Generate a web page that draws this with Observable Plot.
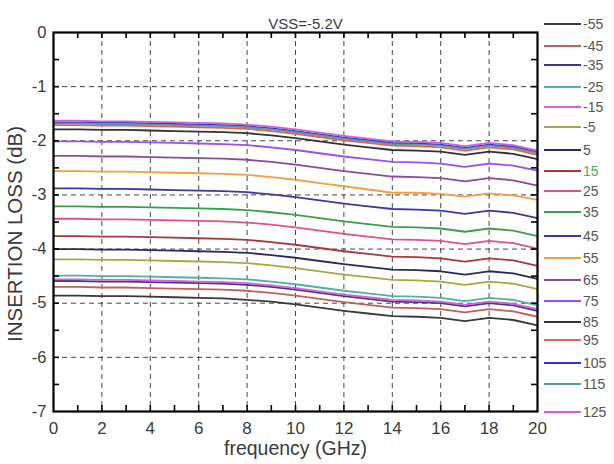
<!DOCTYPE html>
<html>
<head>
<meta charset="utf-8">
<script src="https://cdn.jsdelivr.net/npm/d3@7"></script>
<script src="https://cdn.jsdelivr.net/npm/@observablehq/plot@0.6"></script>
<style>
  html, body { margin: 0; padding: 0; background: #fff; }
  #wrap { position: relative; width: 614px; height: 464px; font-family: "Liberation Sans", Arial, sans-serif; }
  #legend { position: absolute; left: 0; top: 0; width: 614px; height: 464px; pointer-events: none; }
  .entry { position: absolute; left: 544px; height: 16px; display: flex; align-items: center; }
  .entry .sw { width: 37px; height: 2px; margin-right: 2px; }
  .entry .lb { font-size: 14px; color: #555; }
</style>
</head>
<body>
<div id="wrap"><div id="legend"></div></div>
<script>
// ---- data ----
const freq = [0,1,2,3,4,5,6,7,8,9,10,11,12,13,14,15,16,17,18,19,20];
const temps = [-55,-45,-35,-25,-15,-5,5,15,25,35,45,55,65,75,85,95,105,115,125];
const colors = ["#3a3a3a","#c0605a","#3a3a90","#4fb0b0","#d860d8","#a8a840","#2a2a60","#a83a3a","#e0508a","#38a048","#3a3a9a","#f0a040","#8a4aa0","#9a50f0","#333333","#e86050","#3030d8","#5a9a9a","#d060e0"];
const labelColors = ["#555","#555","#555","#555","#555","#555","#555","#4caf50","#555","#555","#555","#555","#555","#555","#555","#555","#555","#555","#555"];

const lossM55 = [-4.86,-4.86,-4.87,-4.87,-4.88,-4.89,-4.90,-4.91,-4.94,-4.97,-5.02,-5.08,-5.14,-5.19,-5.24,-5.25,-5.27,-5.33,-5.27,-5.31,-5.41];
const lossM45 = [-4.70,-4.70,-4.71,-4.71,-4.72,-4.73,-4.74,-4.75,-4.77,-4.81,-4.86,-4.92,-4.98,-5.03,-5.08,-5.09,-5.11,-5.17,-5.11,-5.15,-5.25];
const lossM35 = [-4.59,-4.59,-4.60,-4.60,-4.61,-4.62,-4.63,-4.64,-4.66,-4.70,-4.75,-4.81,-4.87,-4.92,-4.97,-4.98,-5.00,-5.06,-5.00,-5.04,-5.14];
const lossM25 = [-4.49,-4.49,-4.50,-4.50,-4.51,-4.52,-4.53,-4.54,-4.56,-4.60,-4.65,-4.71,-4.77,-4.82,-4.87,-4.88,-4.90,-4.96,-4.90,-4.94,-5.04];
const lossM15 = [-4.56,-4.56,-4.57,-4.57,-4.58,-4.59,-4.60,-4.61,-4.63,-4.67,-4.72,-4.78,-4.84,-4.89,-4.94,-4.95,-4.97,-5.03,-4.97,-5.01,-5.11];
const lossM5  = [-4.19,-4.19,-4.20,-4.20,-4.21,-4.22,-4.23,-4.24,-4.26,-4.30,-4.35,-4.41,-4.47,-4.52,-4.57,-4.58,-4.60,-4.66,-4.60,-4.64,-4.74];
const lossP5  = [-4.00,-4.00,-4.01,-4.01,-4.02,-4.03,-4.04,-4.05,-4.07,-4.11,-4.16,-4.22,-4.28,-4.33,-4.38,-4.39,-4.41,-4.47,-4.41,-4.45,-4.55];
const lossP15 = [-3.76,-3.76,-3.77,-3.77,-3.78,-3.79,-3.80,-3.81,-3.83,-3.87,-3.92,-3.98,-4.04,-4.09,-4.14,-4.15,-4.17,-4.23,-4.17,-4.21,-4.31];
const lossP25 = [-3.44,-3.44,-3.45,-3.45,-3.46,-3.47,-3.48,-3.49,-3.51,-3.55,-3.60,-3.66,-3.72,-3.77,-3.82,-3.83,-3.85,-3.91,-3.85,-3.89,-3.99];
const lossP35 = [-3.21,-3.21,-3.22,-3.22,-3.23,-3.24,-3.25,-3.26,-3.28,-3.32,-3.37,-3.43,-3.49,-3.54,-3.59,-3.60,-3.62,-3.68,-3.62,-3.66,-3.76];
const lossP45 = [-2.88,-2.88,-2.89,-2.89,-2.90,-2.91,-2.92,-2.93,-2.95,-2.99,-3.04,-3.10,-3.16,-3.21,-3.26,-3.27,-3.29,-3.35,-3.29,-3.33,-3.43];
const lossP55 = [-2.56,-2.56,-2.57,-2.57,-2.58,-2.59,-2.60,-2.61,-2.63,-2.67,-2.72,-2.78,-2.84,-2.90,-2.96,-2.96,-2.98,-3.03,-2.97,-3.01,-3.09];
const lossP65 = [-2.28,-2.28,-2.29,-2.29,-2.30,-2.31,-2.32,-2.33,-2.35,-2.39,-2.44,-2.50,-2.56,-2.61,-2.66,-2.67,-2.69,-2.75,-2.69,-2.73,-2.83];
const lossP75 = [-2.01,-2.01,-2.02,-2.02,-2.03,-2.04,-2.05,-2.06,-2.08,-2.12,-2.17,-2.23,-2.29,-2.34,-2.39,-2.40,-2.42,-2.48,-2.42,-2.46,-2.55];
const lossP85 = [-1.79,-1.79,-1.80,-1.80,-1.81,-1.82,-1.83,-1.84,-1.86,-1.90,-1.95,-2.01,-2.07,-2.12,-2.17,-2.18,-2.20,-2.26,-2.20,-2.24,-2.34];
const lossP95 = [-1.71,-1.71,-1.72,-1.72,-1.73,-1.74,-1.75,-1.76,-1.78,-1.82,-1.87,-1.93,-1.99,-2.04,-2.09,-2.10,-2.12,-2.18,-2.12,-2.16,-2.26];
const lossP105 = [-1.66,-1.66,-1.67,-1.67,-1.68,-1.69,-1.70,-1.71,-1.73,-1.77,-1.82,-1.88,-1.94,-1.99,-2.04,-2.05,-2.07,-2.13,-2.07,-2.11,-2.21];
const lossP115 = [-1.68,-1.68,-1.69,-1.69,-1.70,-1.71,-1.72,-1.73,-1.75,-1.79,-1.84,-1.90,-1.96,-2.01,-2.06,-2.07,-2.09,-2.15,-2.09,-2.13,-2.23];
const lossP125 = [-1.63,-1.63,-1.64,-1.64,-1.65,-1.66,-1.67,-1.68,-1.70,-1.74,-1.79,-1.85,-1.91,-1.96,-2.01,-2.02,-2.04,-2.10,-2.04,-2.08,-2.18];

const xTicks = [0,2,4,6,8,10,12,14,16,18,20];
const yTicks = [0,-1,-2,-3,-4,-5,-6,-7];
const xGrid = [2,4,6,8,10,12,14,16,18];
const yGrid = [-1,-2,-3,-4,-5,-6];
const xMinor = [1,2,3,4,5,6,7,8,9,10,11,12,13,14,15,16,17,18,19];
const yMinor = [-0.5,-1,-1.5,-2,-2.5,-3,-3.5,-4,-4.5,-5,-5.5,-6,-6.5];
const title = "VSS=-5.2V";
const xLabel = "frequency (GHz)";
const yLabel = "INSERTION LOSS (dB)";

// legend layout (pixel centres of each legend row)
const legendRowY = [24,46,65,87,107,127,150,171,191,212,236,258,280,301,322,340,363,384,412];

// ---- build table ----
const seriesValues = [lossM55,lossM45,lossM35,lossM25,lossM15,lossM5,lossP5,lossP15,lossP25,lossP35,lossP45,lossP55,lossP65,lossP75,lossP85,lossP95,lossP105,lossP115,lossP125];
const rows = [];
temps.forEach((t, i) => {
  seriesValues[i].forEach((v, j) => rows.push({t: String(t), f: freq[j], v}));
});

const W = 614, H = 464, ML = 53, MR = 77, MT = 32, MB = 53;
const xDom = [0, 20], yDom = [-7, 0];
const tickLen = 6;
const innerW = W - ML - MR, innerH = H - MT - MB;
// minor tick lengths expressed in data units so they can be drawn through the scales
const tdy = tickLen * (yDom[1] - yDom[0]) / innerH;
const tdx = tickLen * (xDom[1] - xDom[0]) / innerW;
const fmt = d => String(d);
const tickStyle = {stroke: "#000", strokeWidth: 1.6};

const chart = Plot.plot({
  width: W,
  height: H,
  marginLeft: ML,
  marginRight: MR,
  marginTop: MT,
  marginBottom: MB,
  style: {fontFamily: "'Liberation Sans', Arial, sans-serif", color: "#333", background: "#fff"},
  x: {domain: xDom, label: null},
  y: {domain: yDom, label: null},
  color: {domain: temps.map(String), range: colors},
  marks: [
    Plot.gridX(xGrid, {stroke: "#333", strokeOpacity: 0.9, strokeDasharray: "5,4"}),
    Plot.gridY(yGrid, {stroke: "#333", strokeOpacity: 0.9, strokeDasharray: "5,4"}),
    Plot.lineY(rows, {x: "f", y: "v", z: "t", stroke: "t", strokeWidth: 1.8}),
    Plot.ruleX(xMinor, {x: d => d, y1: yDom[0], y2: yDom[0] + tdy, ...tickStyle}),
    Plot.ruleX(xMinor, {x: d => d, y1: yDom[1], y2: yDom[1] - tdy, ...tickStyle}),
    Plot.ruleY(yMinor, {y: d => d, x1: xDom[0], x2: xDom[0] + tdx, ...tickStyle}),
    Plot.ruleY(yMinor, {y: d => d, x1: xDom[1], x2: xDom[1] - tdx, ...tickStyle}),
    Plot.frame({stroke: "#000", strokeWidth: 2.2}),
    Plot.axisX(xTicks, {anchor: "bottom", tickSize: 0, tickPadding: 10, fontSize: 17, label: null, tickFormat: fmt, fill: "#3a3a3a"}),
    Plot.axisY(yTicks, {anchor: "left", tickSize: 0, tickPadding: 7, fontSize: 16.5, label: null, tickFormat: fmt, fill: "#3a3a3a"}),
    Plot.text([title], {frameAnchor: "top", dy: -14, dx: 10, fontSize: 15, fill: "#3a3a3a"}),
    Plot.text([xLabel], {frameAnchor: "bottom", dy: 43, fontSize: 19.5, fill: "#3a3a3a"}),
    Plot.text([yLabel], {frameAnchor: "left", textAnchor: "middle", rotate: -90, dx: -38, dy: 12, fontSize: 20.5, fill: "#3a3a3a"})
  ]
});
document.getElementById("wrap").prepend(chart);

// ---- legend ----
const legend = document.getElementById("legend");
temps.forEach((t, i) => {
  const e = document.createElement("div");
  e.className = "entry";
  e.style.top = (legendRowY[i] - 8) + "px";
  const sw = document.createElement("div");
  sw.className = "sw";
  sw.style.background = colors[i];
  const lb = document.createElement("span");
  lb.className = "lb";
  lb.style.color = labelColors[i];
  lb.textContent = String(t);
  e.appendChild(sw);
  e.appendChild(lb);
  legend.appendChild(e);
});
</script>
</body>
</html>
